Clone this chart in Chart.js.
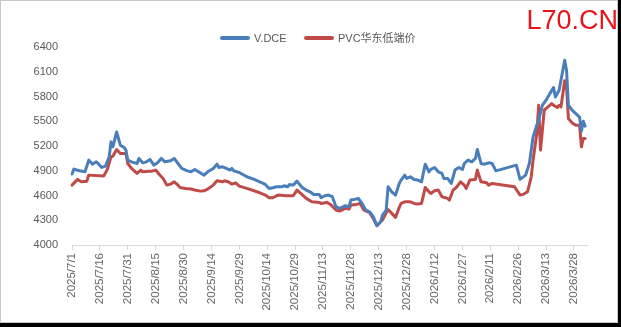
<!DOCTYPE html>
<html>
<head>
<meta charset="utf-8">
<script src="https://cdn.jsdelivr.net/npm/chart.js@4.4.1/dist/chart.umd.min.js"></script>
<style>
  html, body { margin: 0; padding: 0; background: #000; }
  #wrap { position: relative; width: 621px; height: 327px; }
  #panel { position: absolute; left: 0; top: 0; width: 616px; height: 321px; background: #fff; border: 1px solid #c8c8c8; }
  #c { position: absolute; left: 0; top: 0; }
  #legend { position: absolute; top: 30px; left: 0; width: 621px; height: 16px; font: 11px "Liberation Sans", "Noto Sans CJK SC", sans-serif; color: #595959; }
  .item { position: absolute; top: 0; height: 16px; line-height: 16px; white-space: nowrap; }
  .swatch { position: absolute; top: 6px; width: 30px; height: 4px; border-radius: 2px; }
  .item span { position: absolute; left: 34px; top: 0; }
  #mark { position: absolute; right: 3px; top: 5px; font: 27px "Liberation Sans", Arial, sans-serif; color: #e8141b; }
</style>
</head>
<body>
<div id="wrap">
  <div id="panel"></div>
  <canvas id="c" width="621" height="327"></canvas>
  <div id="legend"></div>
  <div id="mark">L70.CN</div>
</div>
<script>
// Axis range: one category per calendar day
const startDate = '2025/7/1';
const endDate = '2026/4/4';
const tickEvery = 15;
const yTicks = { min: 4000, max: 6400, step: 300 };

// V.DCE (PVC futures, Dalian) closing prices
const dceDates = [
  '2025/7/1','2025/7/2','2025/7/5','2025/7/8','2025/7/10','2025/7/12','2025/7/14','2025/7/15','2025/7/17','2025/7/19',
  '2025/7/21','2025/7/22','2025/7/23','2025/7/25','2025/7/27','2025/7/29','2025/7/30','2025/7/31','2025/8/2','2025/8/5',
  '2025/8/6','2025/8/8','2025/8/10','2025/8/12','2025/8/14','2025/8/16','2025/8/18','2025/8/20','2025/8/23','2025/8/25',
  '2025/8/27','2025/8/29','2025/9/1','2025/9/3','2025/9/5','2025/9/7','2025/9/10','2025/9/12','2025/9/15','2025/9/17',
  '2025/9/18','2025/9/20','2025/9/22','2025/9/24','2025/9/25','2025/9/26','2025/9/29','2025/10/3','2025/10/7','2025/10/10',
  '2025/10/13','2025/10/15','2025/10/17','2025/10/19','2025/10/22','2025/10/23','2025/10/25','2025/10/26','2025/10/28','2025/10/30',
  '2025/10/31','2025/11/2','2025/11/4','2025/11/6','2025/11/8','2025/11/11','2025/11/12','2025/11/14','2025/11/16','2025/11/18',
  '2025/11/20','2025/11/22','2025/11/25','2025/11/27','2025/11/28','2025/11/30','2025/12/2','2025/12/4','2025/12/6','2025/12/8',
  '2025/12/10','2025/12/12','2025/12/14','2025/12/15','2025/12/17','2025/12/18','2025/12/20','2025/12/22','2025/12/24','2025/12/25',
  '2025/12/27','2025/12/28','2025/12/30','2026/1/1','2026/1/3','2026/1/5','2026/1/7','2026/1/9','2026/1/10','2026/1/12',
  '2026/1/14','2026/1/16','2026/1/17','2026/1/19','2026/1/21','2026/1/23','2026/1/25','2026/1/27','2026/1/28','2026/1/30',
  '2026/2/1','2026/2/3','2026/2/4','2026/2/6','2026/2/8','2026/2/10','2026/2/12','2026/2/14','2026/2/25','2026/2/27',
  '2026/3/2','2026/3/4','2026/3/6','2026/3/8','2026/3/9','2026/3/11','2026/3/13','2026/3/15','2026/3/17','2026/3/18',
  '2026/3/20','2026/3/21','2026/3/23','2026/3/24','2026/3/25','2026/3/27','2026/3/31','2026/4/1','2026/4/2','2026/4/3'
];
const dceValues = [
  4860,4920,4900,4887,5029,4980,5008,4988,4940,4956,
  5069,5250,5190,5370,5210,5182,5150,5029,5008,4988,
  5049,4996,5008,5037,4968,4996,5049,5008,5020,5049,
  4988,4928,4899,4887,4916,4887,4847,4887,4928,4980,
  4940,4948,4928,4908,4928,4899,4879,4827,4795,4766,
  4734,4686,4694,4706,4706,4718,4706,4734,4726,4774,
  4746,4694,4666,4645,4613,4613,4573,4597,4605,4585,
  4464,4444,4476,4464,4545,4553,4565,4504,4424,4403,
  4343,4235,4282,4363,4424,4706,4645,4605,4746,4787,
  4847,4807,4827,4795,4787,4766,4980,4887,4916,4940,
  4887,4867,4807,4807,4746,4908,4940,4916,4988,5029,
  5008,5049,5158,4988,4980,4996,4988,4899,4968,4795,
  4847,4988,5311,5452,5513,5694,5755,5835,5908,5795,
  5876,5997,6240,6118,5694,5634,5550,5380,5500,5440
];

// PVC华东低端价 (East China spot, low end)
const pvcDates = [
  '2025/7/1','2025/7/4','2025/7/6','2025/7/9','2025/7/10','2025/7/18','2025/7/20','2025/7/22','2025/7/23','2025/7/25',
  '2025/7/27','2025/7/30','2025/7/31','2025/8/2','2025/8/5','2025/8/7','2025/8/8','2025/8/11','2025/8/13','2025/8/15',
  '2025/8/17','2025/8/19','2025/8/21','2025/8/23','2025/8/25','2025/8/27','2025/8/28','2025/8/31','2025/9/3','2025/9/5',
  '2025/9/8','2025/9/10','2025/9/12','2025/9/15','2025/9/17','2025/9/20','2025/9/21','2025/9/23','2025/9/25','2025/9/27',
  '2025/9/29','2025/10/3','2025/10/7','2025/10/10','2025/10/13','2025/10/15','2025/10/17','2025/10/19','2025/10/20','2025/10/24',
  '2025/10/28','2025/10/30','2025/11/1','2025/11/4','2025/11/7','2025/11/11','2025/11/12','2025/11/15','2025/11/17','2025/11/20',
  '2025/11/22','2025/11/25','2025/11/27','2025/11/28','2025/12/1','2025/12/3','2025/12/5','2025/12/7','2025/12/8','2025/12/10',
  '2025/12/12','2025/12/15','2025/12/17','2025/12/18','2025/12/20','2025/12/22','2025/12/24','2025/12/25','2025/12/27','2025/12/30',
  '2026/1/1','2026/1/3','2026/1/5','2026/1/7','2026/1/9','2026/1/10','2026/1/12','2026/1/14','2026/1/16','2026/1/19',
  '2026/1/20','2026/1/22','2026/1/24','2026/1/26','2026/1/28','2026/1/29','2026/1/31','2026/2/3','2026/2/4','2026/2/6',
  '2026/2/9','2026/2/10','2026/2/12','2026/2/24','2026/2/27','2026/3/1','2026/3/3','2026/3/5','2026/3/6','2026/3/8',
  '2026/3/9','2026/3/10','2026/3/11','2026/3/12','2026/3/14','2026/3/16','2026/3/17','2026/3/19','2026/3/20','2026/3/21',
  '2026/3/23','2026/3/24','2026/3/25','2026/3/27','2026/3/29','2026/3/31','2026/4/1','2026/4/2','2026/4/3'
];
const pvcValues = [
  4726,4795,4766,4774,4847,4835,4916,5069,5077,5158,
  5109,5109,4988,4928,4867,4908,4887,4895,4895,4908,
  4855,4807,4726,4738,4766,4726,4698,4686,4678,4666,
  4653,4657,4678,4726,4778,4766,4778,4766,4738,4754,
  4714,4686,4657,4633,4605,4573,4573,4597,4605,4597,
  4597,4666,4625,4565,4524,4516,4504,4516,4492,4424,
  4411,4444,4436,4484,4492,4504,4424,4403,4395,4323,
  4234,4303,4390,4430,4383,4335,4456,4504,4524,4524,
  4504,4496,4504,4698,4645,4625,4657,4666,4585,4565,
  4545,4666,4706,4766,4726,4686,4787,4795,4908,4766,
  4754,4726,4746,4706,4605,4617,4645,4827,5029,5351,
  5694,5150,5392,5634,5674,5714,5694,5666,5694,5674,
  5990,5916,5533,5480,5452,5452,5190,5291,5291
];

const seriesNames = ['V.DCE', 'PVC华东低端价'];
const seriesColors = ['#4a7ebb', '#be4b48'];

// Build the full list of calendar days for the category axis
function buildDays(from, to) {
  const p = s => s.split('/').map(Number);
  const [y0, m0, d0] = p(from), [y1, m1, d1] = p(to);
  const out = [];
  const d = new Date(y0, m0 - 1, d0), end = new Date(y1, m1 - 1, d1);
  while (d <= end) {
    out.push(d.getFullYear() + '/' + (d.getMonth() + 1) + '/' + d.getDate());
    d.setDate(d.getDate() + 1);
  }
  return out;
}
const days = buildDays(startDate, endDate);
const pairs = (xs, ys) => xs.map((x, i) => ({ x, y: ys[i] }));

const axisFont = { family: '"Liberation Sans", "Noto Sans CJK SC", sans-serif', size: 11 };

new Chart(document.getElementById('c'), {
  type: 'line',
  data: {
    labels: days,
    datasets: [
      { label: seriesNames[0], data: pairs(dceDates, dceValues), borderColor: seriesColors[0] },
      { label: seriesNames[1], data: pairs(pvcDates, pvcValues), borderColor: seriesColors[1] }
    ]
  },
  options: {
    responsive: false,
    animation: false,
    layout: { padding: { left: 0, right: 34, top: 47, bottom: 0 } },
    elements: {
      point: { radius: 0, hoverRadius: 0 },
      line: { borderWidth: 3, tension: 0, borderJoinStyle: 'round', borderCapStyle: 'round' }
    },
    plugins: { legend: { display: false }, tooltip: { enabled: false } },
    scales: {
      x: {
        type: 'category',
        offset: false,
        afterFit: s => { s.height = 82; },
        border: { display: true, color: '#d9d9d9', width: 1 },
        grid: { drawOnChartArea: false, drawTicks: true, tickLength: 5, color: '#d9d9d9' },
        ticks: {
          autoSkip: false, maxRotation: 90, minRotation: 90, padding: 3,
          color: '#666666', font: { ...axisFont, size: 11.5 },
          callback: function (v, i) { return i % tickEvery === 0 ? days[i] : null; }
        }
      },
      y: {
        min: yTicks.min, max: yTicks.max,
        afterFit: s => { s.width = 72; },
        border: { display: false },
        grid: { display: false, drawTicks: false },
        ticks: {
          stepSize: yTicks.step, padding: 14, color: '#595959', font: axisFont,
          callback: v => String(v)
        }
      }
    }
  }
});

// Legend row
const legend = document.getElementById('legend');
const legendX = [220, 304];
seriesNames.forEach((name, i) => {
  const item = document.createElement('div');
  item.className = 'item';
  item.style.left = legendX[i] + 'px';
  item.innerHTML = '<div class="swatch" style="background:' + seriesColors[i] + '"></div><span>' + name + '</span>';
  legend.appendChild(item);
});
</script>
</body>
</html>
